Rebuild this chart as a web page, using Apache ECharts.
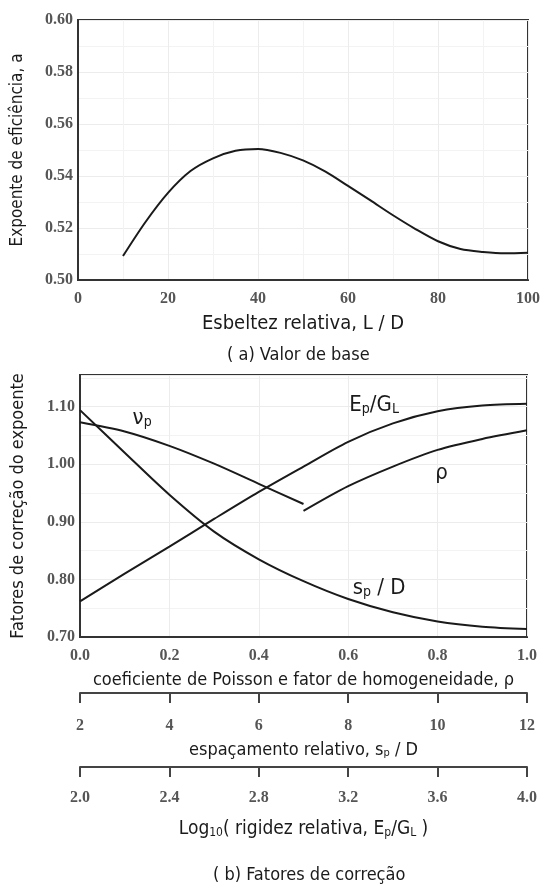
<!DOCTYPE html>
<html>
<head>
<meta charset="utf-8">
<script src="https://cdn.jsdelivr.net/npm/echarts@6/dist/echarts.min.js"></script>
<style>
html,body{margin:0;padding:0;background:#fff;}
#c{width:543px;height:886px;}
</style>
</head>
<body>
<div id="c"></div>
<script>
// ---- Data ----
// (a) base value
const slenderness = [10, 15, 20, 25, 30, 35, 40, 45, 50, 55, 60, 65, 70, 75, 80, 85, 90, 95, 100];
const efficiencyExp = [0.5092, 0.5223, 0.5335, 0.5419, 0.5468, 0.5497, 0.5504, 0.5489, 0.5460, 0.5417, 0.5362, 0.5306, 0.5249, 0.5196, 0.5149, 0.5119, 0.5108, 0.5103, 0.5105];
// (b) correction factors (common normalized abscissa 0..1)
const xFull = [0, 0.1, 0.2, 0.3, 0.4, 0.5, 0.6, 0.7, 0.8, 0.9, 1.0];
const stiffnessFactor = [0.762, 0.810, 0.857, 0.905, 0.952, 0.996, 1.039, 1.071, 1.092, 1.102, 1.105];
const spacingFactor = [1.094, 1.020, 0.947, 0.883, 0.835, 0.797, 0.766, 0.743, 0.727, 0.718, 0.714];
const xPoisson = [0, 0.1, 0.2, 0.3, 0.4, 0.5];
const poissonFactor = [1.073, 1.057, 1.032, 1.001, 0.966, 0.931];
const xRho = [0.5, 0.6, 0.7, 0.8, 0.9, 1.0];
const rhoFactor = [0.919, 0.962, 0.996, 1.025, 1.044, 1.059];
// tick ranges [min, max, interval]
const topXRange = [0, 100, 20];
const topYRange = [0.50, 0.60, 0.02];
const botXRange = [0, 1, 0.2];
const botYRange = [0.70, 1.155, 0.10];
const spacingRange = [2, 12, 2];
const logStiffRange = [2.0, 4.0, 0.4];
// curve label anchors [x, y]
const labelNu = [0.139, 1.083];
const labelEG = [0.658, 1.106];
const labelRho = [0.809, 0.988];
const labelSp = [0.669, 0.788];

const zip = (xs, ys) => xs.map((x, i) => [x, ys[i]]);

const TITLE_FONT = "'Liberation Sans Narrow','DejaVu Sans Condensed','Roboto Condensed',sans-serif";
const TICK_FONT = "'Liberation Serif','DejaVu Serif',serif";
const INK = '#1a1a1a';

const subRich = (size) => ({
  n: {fontFamily: TITLE_FONT, fontSize: size, color: INK, lineHeight: size + 5, verticalAlign: 'bottom'},
  sub: {fontFamily: TITLE_FONT, fontSize: Math.round(size * 0.62), color: INK, lineHeight: 10, verticalAlign: 'bottom'}
});

const tickLabel = (fmt, margin) => ({
  color: '#555', fontFamily: TICK_FONT, fontWeight: 'bold', fontSize: 16, margin: margin,
  formatter: v => v.toFixed(fmt)
});

const faintSplit = {show: true, lineStyle: {color: '#ececec', width: 1}};
const faintMinor = {show: true, lineStyle: {color: '#f3f3f3', width: 1}};

function curveLabel(coord, text) {
  return {
    symbol: 'circle', symbolSize: 0, silent: true,
    data: [{coord: coord, label: {show: true, position: 'inside', formatter: text, rich: {
      n: {fontFamily: TITLE_FONT, fontSize: 22, color: INK, lineHeight: 26, verticalAlign: 'bottom'},
      sub: {fontFamily: TITLE_FONT, fontSize: 14, color: INK, lineHeight: 12, verticalAlign: 'bottom'}
    }}}]
  };
}

const lineStyle = {color: INK, width: 2};
const frame = {show: true, lineStyle: {color: '#333', width: 2}};

const option = {
  animation: false,
  backgroundColor: '#fff',
  title: [
    {text: '( a) Valor de base', left: 222, top: 341, textStyle: {fontFamily: TITLE_FONT, fontSize: 18, fontWeight: 'normal', color: INK}},
    {text: '( b) Fatores de correção', left: 208, top: 861, textStyle: {fontFamily: TITLE_FONT, fontSize: 18, fontWeight: 'normal', color: INK}}
  ],
  grid: [
    {left: 78, width: 450, top: 20, height: 260, show: true, borderColor: '#333', borderWidth: 2},
    {left: 80, width: 447, top: 375, height: 262, show: true, borderColor: '#333', borderWidth: 2},
    {left: 80, width: 447, top: 692, height: 1},
    {left: 80, width: 447, top: 766, height: 1}
  ],
  xAxis: [
    {gridIndex: 0, type: 'value', min: topXRange[0], max: topXRange[1], interval: topXRange[2],
      axisLine: frame, axisTick: {show: false},
      axisLabel: tickLabel(0, 11), splitLine: faintSplit,
      minorTick: {show: false, splitNumber: 2}, minorSplitLine: faintMinor,
      name: 'Esbeltez relativa, L / D', nameLocation: 'middle', nameGap: 34,
      nameTextStyle: {fontFamily: TITLE_FONT, fontSize: 20, color: INK}},
    {gridIndex: 1, type: 'value', min: botXRange[0], max: botXRange[1], interval: botXRange[2],
      axisLine: frame, axisTick: {show: false},
      axisLabel: tickLabel(1, 11), splitLine: faintSplit,
      name: 'coeficiente de Poisson e fator de homogeneidade, ρ', nameLocation: 'middle', nameGap: 34,
      nameTextStyle: {fontFamily: TITLE_FONT, fontSize: 18, color: INK}},
    {gridIndex: 2, type: 'value', min: spacingRange[0], max: spacingRange[1], interval: spacingRange[2],
      axisLine: {show: true, lineStyle: {color: '#444', width: 2}},
      axisTick: {show: true, length: 10, lineStyle: {color: '#444', width: 2}},
      axisLabel: tickLabel(0, 25), splitLine: {show: false},
      name: '{n|espaçamento relativo, s}{sub|p}{n| / D}', nameLocation: 'middle', nameGap: 43,
      nameTextStyle: {rich: subRich(18)}},
    {gridIndex: 3, type: 'value', min: logStiffRange[0], max: logStiffRange[1], interval: logStiffRange[2],
      axisLine: {show: true, lineStyle: {color: '#444', width: 2}},
      axisTick: {show: true, length: 10, lineStyle: {color: '#444', width: 2}},
      axisLabel: tickLabel(1, 23), splitLine: {show: false},
      name: '{n|Log}{sub|10}{n|( rigidez relativa, E}{sub|p}{n|/G}{sub|L}{n| )}', nameLocation: 'middle', nameGap: 48,
      nameTextStyle: {rich: subRich(19)}}
  ],
  yAxis: [
    {gridIndex: 0, type: 'value', min: topYRange[0], max: topYRange[1], interval: topYRange[2],
      axisLine: frame, axisTick: {show: false},
      axisLabel: tickLabel(2, 5), splitLine: faintSplit,
      minorTick: {show: false, splitNumber: 2}, minorSplitLine: faintMinor,
      name: 'Expoente de eficiência, a', nameLocation: 'middle', nameGap: 52,
      nameTextStyle: {fontFamily: TITLE_FONT, fontSize: 17, color: INK}},
    {gridIndex: 1, type: 'value', min: botYRange[0], max: botYRange[1], interval: botYRange[2],
      axisLine: frame, axisTick: {show: false},
      axisLabel: Object.assign(tickLabel(2, 5), {showMaxLabel: false}), splitLine: faintSplit,
      minorTick: {show: false, splitNumber: 2}, minorSplitLine: faintMinor,
      name: 'Fatores de correção do expoente', nameLocation: 'middle', nameGap: 53,
      nameTextStyle: {fontFamily: TITLE_FONT, fontSize: 18, color: INK}},
    {gridIndex: 2, type: 'value', min: 0, max: 1, show: false},
    {gridIndex: 3, type: 'value', min: 0, max: 1, show: false}
  ],
  series: [
    {type: 'line', xAxisIndex: 0, yAxisIndex: 0, data: zip(slenderness, efficiencyExp), smooth: 0.3, showSymbol: false, lineStyle: lineStyle},
    {type: 'line', xAxisIndex: 1, yAxisIndex: 1, data: zip(xFull, stiffnessFactor), smooth: 0.3, showSymbol: false, lineStyle: lineStyle,
      markPoint: curveLabel(labelEG, '{n|E}{sub|p}{n|/G}{sub|L}')},
    {type: 'line', xAxisIndex: 1, yAxisIndex: 1, data: zip(xFull, spacingFactor), smooth: 0.3, showSymbol: false, lineStyle: lineStyle,
      markPoint: curveLabel(labelSp, '{n|s}{sub|p}{n| / D}')},
    {type: 'line', xAxisIndex: 1, yAxisIndex: 1, data: zip(xPoisson, poissonFactor), smooth: 0.3, showSymbol: false, lineStyle: lineStyle,
      markPoint: curveLabel(labelNu, '{n|ν}{sub|p}')},
    {type: 'line', xAxisIndex: 1, yAxisIndex: 1, data: zip(xRho, rhoFactor), smooth: 0.3, showSymbol: false, lineStyle: lineStyle,
      markPoint: curveLabel(labelRho, '{n|ρ}')}
  ]
};

const chart = echarts.init(document.getElementById('c'), null, {renderer: 'canvas'});
chart.setOption(option);
</script>
</body>
</html>
